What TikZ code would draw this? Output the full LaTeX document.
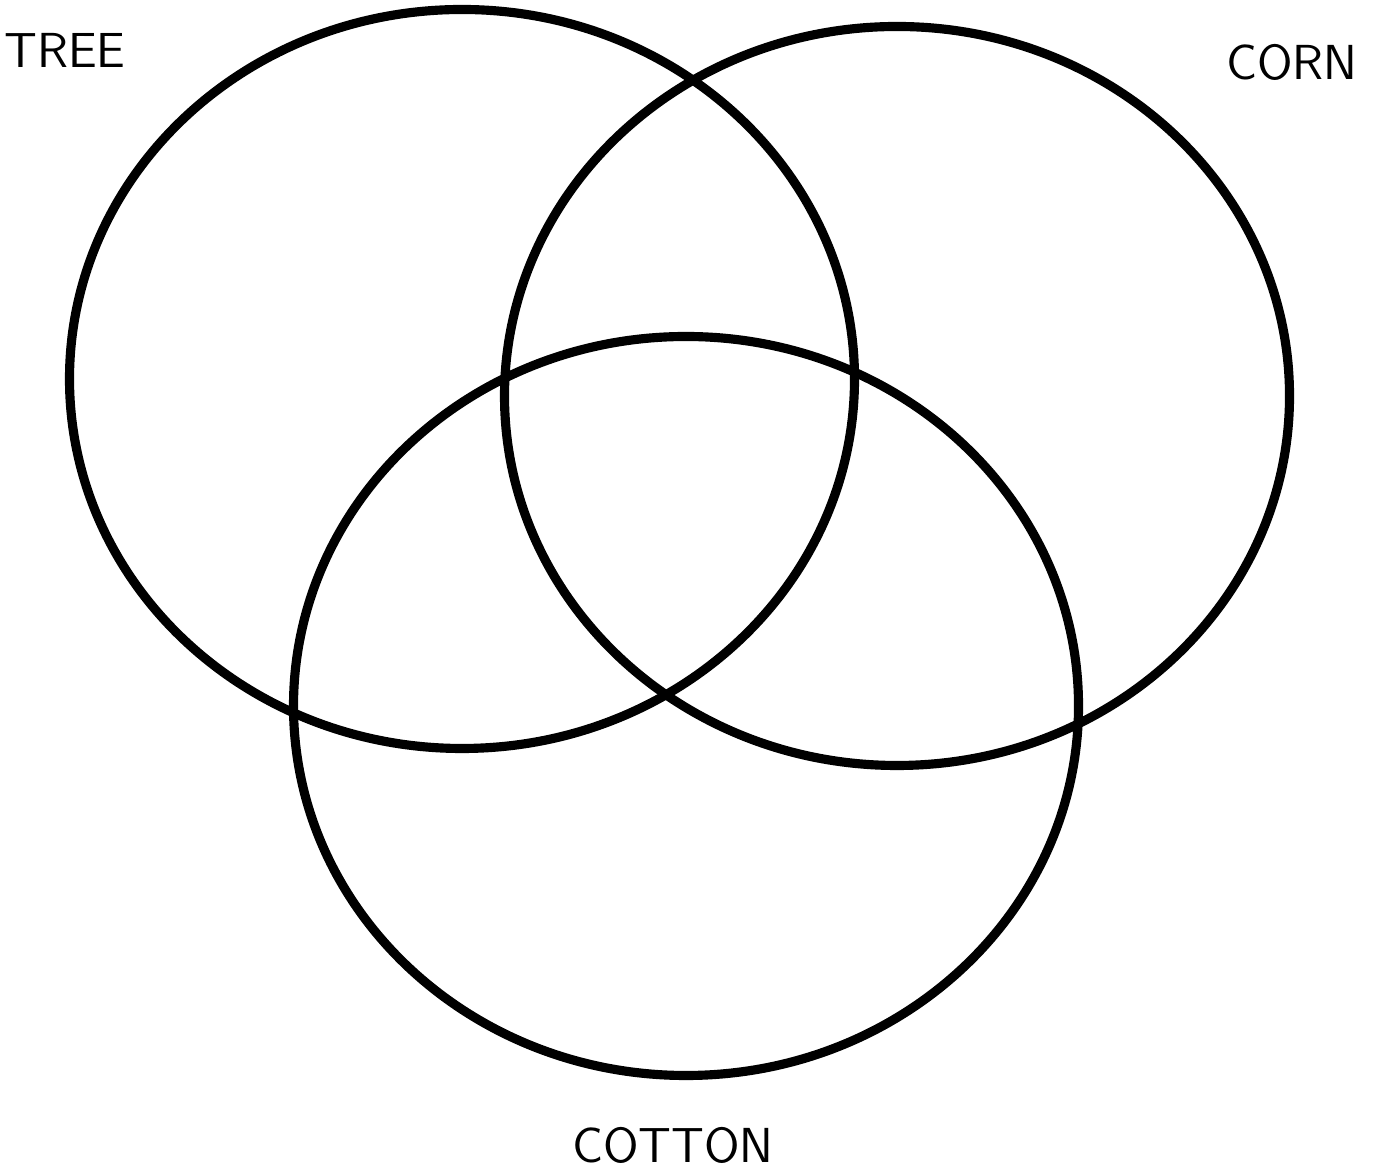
\documentclass[tikz,border=0pt]{standalone}
\usetikzlibrary{shapes.geometric}

\begin{document}
\begin{tikzpicture}[
    every node/.style={font=\fontsize{14}{16}\selectfont\sffamily},
    ring/.style={draw, ellipse, line width=2.6pt, inner sep=0pt, minimum width=7.85cm, minimum height=7.39cm},
    setname/.style={inner sep=0pt}
  ]
    \useasboundingbox (0,0) rectangle (13.81,11.70);

    \node[ring] (tree) at (4.62,7.91) {};
    \node[ring] (corn) at (8.97,7.74) {};
    \node[ring] (cotton) at (6.86,4.64) {};

    \node[setname] (treelbl) at (0.65,11.20) {TREE};
    \node[setname] (cornlbl) at (12.92,11.08) {CORN};
    \node[setname] (cottonlbl) at (6.73,0.25) {COTTON};
  \end{tikzpicture}
\end{document}
